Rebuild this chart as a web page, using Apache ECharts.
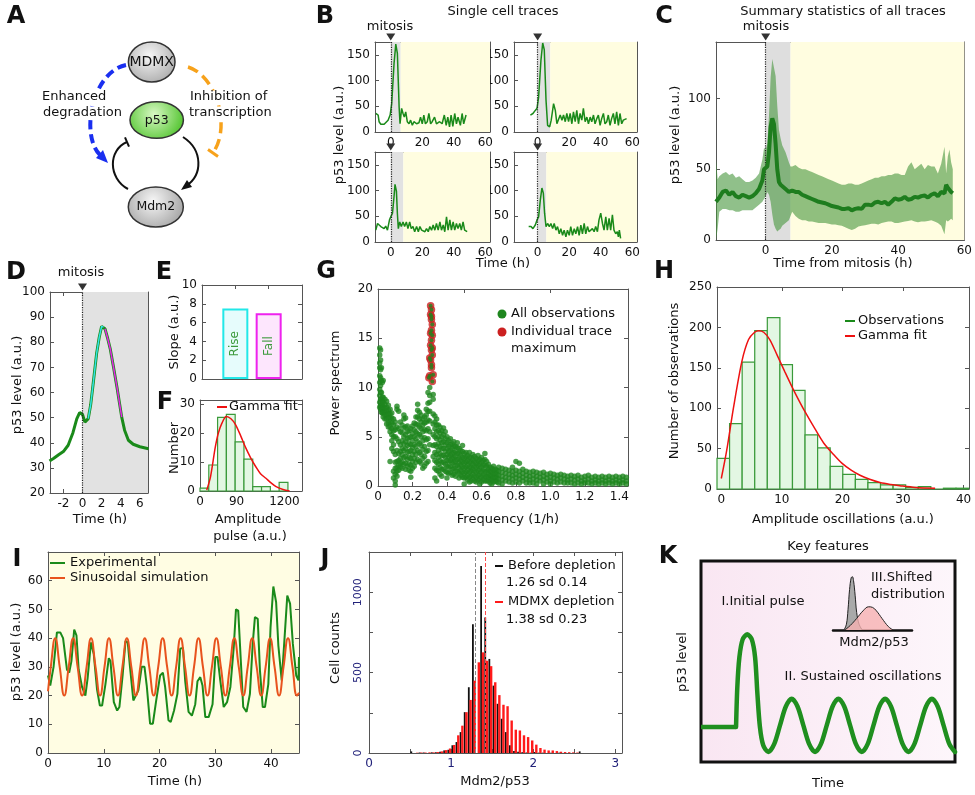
<!DOCTYPE html>
<html><head><meta charset="utf-8">
<script src="https://cdn.jsdelivr.net/npm/echarts@6/dist/echarts.min.js"></script>
<style>html,body{margin:0;padding:0;background:#fff}#c{width:975px;height:795px}</style>
</head><body><div id="c"></div>
<script>
// ================= DATA =================
// B: single cell traces (time h, p53 a.u.)
const b1t=[-9.5,-8,-7.4,-6.3,-4.2,-3.2,-1.7,-0.4,0.6,2.1,3.2,4.2,5.3,5.9,6.9,7.8,8.6,9.5,10.5,11.6,12.6,13.7,14.7,16.4,17.9,18.9,20,21,22,23.2,24.2,25.3,26.3,27.8,29,30,31,32.6,34,35.2,36.2,37.3,38.3,39.4,40.6,41.7,42.7,44.2,45.3,46.3,47.8];
const b1v=[36,33,20,15,15,18,23,33,55,134,171,153,49,16,46,36,29,39,20,16,23,13,20,16,18,29,16,33,16,20,36,16,20,29,16,16,20,16,33,13,29,10,33,11,36,16,29,13,36,16,33];
const b2t=[-4.6,-3,-1.5,-0.4,0.6,2.1,3.2,4.2,5.3,6.3,7.6,8.6,10.1,11.2,12.2,13.3,14.3,15.4,16.4,17.5,18.5,19.6,20.6,21.7,22.7,23.8,24.8,25.9,26.9,28,29,30.1,31.2,32.2,33.3,34.3,35.4,36.4,37.5,38.5,39.6,40.6,41.7,42.7,43.8,44.8,45.9,46.9,48,49,50.1,51.2,52.2,53.3,54.3,55.4,56.4];
const b2v=[33,36,42,46,68,140,173,160,62,13,10,23,55,42,16,13,33,23,33,20,36,20,36,16,39,20,42,16,36,23,46,20,29,16,29,20,33,16,26,33,13,26,36,16,20,33,13,26,36,16,39,13,36,16,23,20,26];
const b3t=[-9.5,-8.4,-7.4,-6.3,-5.3,-4.2,-3.2,-2.1,-0.8,0,1.1,2.1,2.7,3.6,4.2,4.8,5.7,6.7,7.8,8.8,9.9,10.9,12,13,14.1,15.2,16.4,17.5,18.5,19.6,20.6,21.7,22.7,23.8,24.8,25.9,26.9,28,29,30.1,31.2,32.2,33.3,34.3,35.4,36.4,37.5,38.5,39.6,40.6,41.7,42.7,43.8,44.8,45.9,46.9,48.5];
const b3v=[23,36,33,30,33,26,31,23,43,49,56,89,112,99,56,26,39,30,39,30,39,26,39,26,30,20,30,20,30,23,26,20,26,20,30,23,33,23,36,23,39,23,33,20,49,23,43,23,39,23,36,26,36,23,39,23,20];
const b4t=[-5.7,-4.2,-3,-1.5,-0.4,0.6,1.7,2.7,3.6,4.4,5.3,6.3,7.4,8.4,9.5,10.5,11.6,12.6,13.7,14.7,15.8,16.8,17.9,18.9,20,21,22.1,23.2,24.2,25.3,26.3,27.4,28.4,29.5,30.5,31.6,32.6,33.7,34.7,35.8,36.8,37.9,38.9,40,41.1,42.1,43.2,44.2,45.3,46.3,47.4,48.4,49.5,50.5,51.2,51.8,52.6];
const b4v=[30,30,26,33,43,49,82,105,95,56,30,36,30,36,26,36,23,30,16,26,13,23,10,23,13,30,13,26,16,30,13,33,16,36,16,30,20,23,26,20,30,20,43,56,36,23,49,23,46,23,53,23,16,20,10,23,7];
const bGrayEnd=[6.3,8,8,5.5];
const bXTicks=[0,20,40,60], bYTicks=[0,50,100,150];

// C: summary statistics
const cT=[-15,-14.5,-14,-13,-12,-11,-10,-9,-8,-7,-6,-5,-4,-3,-2,-1,-0.5,0,0.5,1,1.5,2,2.5,3,3.5,4,4.5,5,6,7,7.5,8,9,10,11,12,13,14,15,16,17,18,19,20,21,22,23,24,25,26,27,28,29,30,31,32,33,34,35,36,37,38,39,40,41,42,43,44,45,46,47,48,49,50,51,52,53,54,54.5,55,55.5,56,56.5];
const cMean=[27,28,30,34,35,32,34,31,30,32,31,30,31,33,36,42, 50,51,52,62,80,86,82,68,50,41,39,38, 36,34,34,35, 34,34,32,31,30,29,28,27,26.5,26, 25,24,23.5,23,22,22,22.5,21,22,22.5, 22,25,25,24.5,26.5,27,26,27,25,27, 29.5,28.5,29,30.5,28.5,29,30.5,30,31,31.5, 30,32,33,31,34,33, 39,37,36,34,33];
const cLow=[0,8,20,22,22,21,21,20,20,21,21,21,21,23,25,27, 29,31,34,32,27,18,11,8,6,7,8,10, 12,14,17,20, 17,15,14,14,13,13,12.5,12,12,12, 11.5,11,11,10.5,10,9,8,7,8,9.5, 10,10.5,11,11.5,11.5,11,12,12.5,13,13, 12,12,12.5,13,13.5,14,13,12.5,13,13, 13.5,14,13,12,10,4, 14,13,14,15,14];
const cUp=[57,43,45,47,48,46,47,44,45,43,41,41,42,44,47,57, 65,64,68,88,115,128,122,116,95,78,72,67, 62,55,52,52, 53,51,50,50,49,48,47,46,45,44, 43,42,41,40,39,39,40,40,39,39, 40,41,42,43,44,44,45,45,46,46, 47,47,46,46,52,55,50,52,54,50, 53,52,52,47,54,66, 47,59,64,55,50];
const cGrayEnd=7.5;

// D: single pulse
const dT=[-3.45,-3,-2.5,-2,-1.5,-1,-0.6,-0.3,0,0.25,0.6,0.85,1.1,1.47,1.75,2,2.2,2.35,2.6,2.9,3.2,3.6,3.9,4.1,4.4,4.8,5.3,6,6.9];
const dV=[32.7,33.8,35.2,36.5,39,44,49.5,52,51.3,48.2,49.6,55,63,75.4,82,86.3,86,85.4,82,77.4,71,62.2,55,50.2,45,41,39.4,38.4,37.6];
const dRise=[0.6,2.2], dFall=[2.35,4.1];

// E: slopes
const eCat=['Rise','Fall'], eVal=[7.5,7.0];

// F: pulse amplitude histogram + gamma fit
const fBinStart=0, fBinWidth=125;
const fCounts=[1,9,25.5,26.5,17,11,1.5,1.5,0,3];
const fGx=[96,150,216,260,312,375,440,505,580,649,720,793,860,937,1010,1082,1180,1274];
const fGy=[0.3,5,15,20,23.5,25.8,25,23,19,15,11.5,8.4,6,4.4,2.8,1.5,0.5,0];
const fXTicks=[0,520,1200], fXLabels=['0','90','1200'];

// G: power spectrum [frequency, powers...]
const gSpectrum=[
[0.01,[14,13.3,12.5,12,11.2,10.5,9.8,9.2,8.5,8]],[0.015,[13.8,12.8,11.8,11,10.2,9.5,8.8,8.2,7.8]],[0.02,[12,10.7,9.5,8.8,8.3,7.9,7.5]],
[0.025,[10.5,9,8.6,8.2,7.8,7.4]],[0.03,[10.7,9,8.5,8,7.5,7]],[0.04,[8.8,8.3,7.9,7.5,7.2,6.8]],[0.05,[8.6,8,7.6,7.2,6.8,6.3]],
[0.06,[8.2,7.7,7.3,6.9,6.4,6]],[0.07,[7.8,7.3,6.9,6.5,6,5.5,2.5]],[0.08,[7.4,6.9,6.4,5.8,5.2,4.6,3.8]],[0.09,[6.8,6.2,5.6,5,4.2,3.5,1.5,0.8]],
[0.1,[6.5,5.7,5,3.2,2.4,1.8,1.2,0.5,0.1]],[0.11,[8.1,7.8,6,4.8,3.6,2.5,1.9,1.5,1]],[0.12,[7.6,5.8,4.5,3.3,2.6,2.1,1.6]],[0.13,[6.5,5.5,4.2,3.5,2.8,2.3,1.9]],
[0.14,[6.2,5.4,4.6,3.8,3.2,2.4,1.8]],[0.15,[7.2,6.8,5.9,5,4.3,3.6,2.9,2.2]],[0.16,[6.9,6,5.2,4.5,3.8,3,2.3,1.7]],[0.17,[6.1,5.5,4.8,4.1,3.4,2.7,2]],
[0.18,[5.6,4.9,4.3,3.5,2.9,2.2,1.6]],[0.19,[5.8,5,4.2,3.6,2.8,2.1,1.5,0.9]],[0.2,[6.1,5.3,4.6,3.9,3.2,2.5,1.8]],[0.21,[6.4,5.7,5,4.2,3.5,2.8,2]],
[0.22,[7,6.3,5.5,4.8,4,3.2,2.4]],[0.23,[8.3,7.7,7,6.2,5.3,4.5,3.6,2.7]],[0.24,[7.5,6.8,6,5.2,4.3,3.4,2.5]],[0.25,[7.2,6.5,5.8,5,4.1,3.2,2.3]],
[0.26,[6.8,6.2,5.5,4.6,3.7,2.8,1.8]],[0.27,[7,6.4,5.7,4.9,4,3,2]],[0.28,[7.8,7.2,6.5,5.6,4.7,3.5,2.3]],[0.29,[9.5,8.4,7.6,6.7,5.8,4.8,3.6,2.5]],
[0.3,[10,9.2,8.5,7.6,6.6,5.5,4.2]],[0.32,[9.3,8.8,7.3,6.3,5.2,4.1,3]],[0.33,[7.1,6.5,5.8,5,4.2,3.4,2.6,1.8,0.8]],[0.34,[6.8,6.2,5.5,4.8,4,3.2,2.4,1.6,0.5]],
[0.35,[6.2,5.6,5,4.3,3.6,2.9,2.2,1.5]],[0.36,[6,5.4,4.7,4,3.3,2.6,1.9,1.2]],[0.37,[5.6,5,4.4,3.8,3.1,2.4,1.7,1]],[0.38,[5.9,5.2,4.5,3.8,3.1,2.4,1.7]],
[0.39,[5.5,4.8,4.2,3.5,2.9,2.2,1.5]],[0.4,[5,4.4,3.8,3.2,2.6,2,1.4,0.8]],[0.41,[4.6,4,3.5,3,2.5,1.9,1.3]],[0.42,[4.8,4.2,3.6,3.1,2.6,2,1.4]],
[0.43,[4.3,3.8,3.3,2.8,2.3,1.7,1.1]],[0.44,[4.5,4,3.4,2.9,2.4,1.8,1.2]],[0.45,[4,3.5,3,2.5,2,1.5,1]],[0.46,[4.4,3.9,3.3,2.7,2.1,1.5]],
[0.47,[3.8,3.3,2.8,2.3,1.8,1.3,0.8]],[0.48,[3.6,3.1,2.6,2.1,1.6,1.1]],[0.49,[4.1,3.5,2.9,2.4,1.9,1.4,0.9]],[0.5,[3.3,2.8,2.3,1.8,1.3,0.8,0.2]],
[0.51,[3.4,2.9,2.4,1.9,1.4,0.9]],[0.52,[3.1,2.6,2.1,1.6,1.1,0.6]],[0.53,[3.4,2.9,2.4,1.9,1.4,0.9,0.4]],[0.54,[2.9,2.4,1.9,1.5,1,0.5]],
[0.55,[3.2,2.7,2.2,1.7,1.2,0.7]],[0.56,[3,2.5,2,1.5,1,0.5]],[0.57,[2.8,2.3,1.9,1.4,0.9,0.4]],[0.58,[3.1,2.6,2.1,1.6,1.1,0.6]],
[0.59,[2.7,2.2,1.7,1.2,0.7,0.2]],[0.6,[2.9,2.4,1.9,1.4,0.9,0.4]],[0.61,[2.6,2.1,1.6,1.1,0.6]],[0.62,[3.3,2.7,2.1,1.5,1,0.5]],
[0.63,[2.5,2,1.5,1,0.5]],[0.64,[2.2,1.7,1.3,0.9,0.5]],[0.65,[1.9,1.5,1.1,0.7,0.3]],[0.66,[1.8,1.4,1,0.6,0.2]],[0.67,[2,1.6,1.2,0.8,0.4]],
[0.68,[1.7,1.3,0.9,0.5]],[0.69,[1.6,1.2,0.8,0.4]],[0.7,[1.9,1.5,1.1,0.7,0.3]],[0.72,[1.8,1.4,1,0.6,0.2]],[0.74,[1.7,1.3,0.9,0.5]],
[0.76,[1.6,1.2,0.8,0.4]],[0.78,[1.9,1.5,1.1,0.7,0.3]],[0.8,[2.5,1.6,1.2,0.8,0.4]],[0.82,[2.3,1.5,1.1,0.7,0.3]],[0.84,[1.7,1.3,0.9,0.5]],
[0.86,[1.5,1.1,0.7,0.3]],[0.88,[1.4,1,0.6,0.3]],[0.9,[1.5,1.1,0.7,0.3]],[0.92,[1.4,1,0.6,0.2]],[0.94,[1.3,0.9,0.5]],[0.96,[1.4,1,0.6,0.2]],
[0.98,[1.2,0.8,0.4]],[1.0,[1.3,0.9,0.5,0.2]],[1.02,[1.2,0.8,0.4]],[1.04,[1.1,0.7,0.3]],[1.06,[1.2,0.8,0.4]],[1.08,[1.1,0.7,0.3]],
[1.1,[1,0.6,0.3]],[1.12,[1.1,0.7,0.3]],[1.14,[1,0.6,0.2]],[1.16,[1.1,0.7,0.3]],[1.18,[0.9,0.5,0.2]],[1.2,[1,0.6,0.3]],[1.22,[1.1,0.7,0.3]],
[1.24,[0.9,0.5,0.2]],[1.26,[1,0.6,0.3]],[1.28,[0.9,0.5,0.2]],[1.3,[1,0.6,0.3]],[1.32,[0.9,0.5,0.2]],[1.34,[1,0.6,0.3]],[1.36,[0.9,0.5,0.2]],
[1.38,[1,0.6,0.3]],[1.4,[0.9,0.5,0.2]],[1.42,[1,0.6,0.3]],[1.44,[0.9,0.5,0.2]]];
const gMaxF=[0.305,0.31,0.305,0.31,0.315,0.31,0.315,0.31,0.305,0.31,0.315,0.305,0.31,0.3,0.315,0.32,0.295,0.3,0.31,0.305,0.315,0.31];
const gMaxP=[18.3,17.9,17.4,16.9,16.4,15.8,15.3,14.8,14.3,13.8,13.3,12.8,12.3,11.2,10.6,11.3,11,13,17.2,15.5,14,12];

// H: amplitude of oscillations histogram + gamma fit
const hBinStart=-0.71, hBinWidth=2.077;
const hCounts=[38,81,157,196,212,154,122,67,51,28,18,12,8,5,5,2,3,0,1,1];
const hGx=[0,0.9,2,3.4,4.5,5.5,6.2,7,8,9.2,10.5,11.9,13,14.1,15.5,16.9,18.5,19.9,21.5,22.9,24.5,26.2,28,29.5,32,35.3];
const hGy=[13,48,100,158,185,194,196,194,185,166,145,123,107,92,74,57,43,32,23,17,12,8,5.5,4,2,1];

// I: experimental vs sinusoidal
const iT=[0,0.4,1,1.6,2.2,2.7,3.4,3.8,4.2,4.7,5.1,5.5,6.1,6.7,7.1,7.7,8.2,8.8,9.3,9.7,10.3,10.9,11.2,11.8,12.4,12.8,13.4,13.9,14.3,14.7,15.3,15.6,16.2,16.8,17.3,17.7,18.3,18.8,19.4,20.1,20.6,21,21.6,22,22.6,23.2,23.7,24.2,24.6,25.2,25.8,26.4,26.8,27.3,27.7,28.2,28.8,29.5,30,30.4,30.9,31.5,32.1,32.7,33.3,33.7,34.1,34.6,35,35.6,36.2,36.7,37.1,37.6,38,38.5,38.9,39.5,39.9,40.4,40.9,41.3,41.9,42.3,42.9,43.4,43.9,44.5,44.9,45];
const iV=[27,23.5,30,42,42,40,29,28,32,43,41,29,23,20,26,38.5,34.5,22,16.5,16.5,24,33,32,17.7,14.8,16,27.5,39,38.5,30,18.3,17.7,21.8,30,30,23.5,10.2,10.2,18.3,27,28,23,11.4,10.8,14.8,20.6,36.3,36.6,25,14.3,13,17,25,26.4,23.5,12.5,12.5,17,33.4,33.4,25,16,17.7,23,36.8,50,49.6,31,16,14.3,20.6,38,47.3,46.7,28.7,16,16,24,43.8,58,52.5,37.4,25.3,36.8,54.8,52,38,27,25.3,33.4];
const sT=[0,0.5,1.3,2.1,2.91,3.71,4.51,5.31,6.12,6.92,7.72,8.52,9.33,10.13,10.93,11.73,12.54,13.34,14.14,14.94,15.75,16.55,17.35,18.15,18.96,19.76,20.56,21.36,22.17,22.97,23.77,24.57,25.38,26.18,26.98,27.78,28.59,29.39,30.19,30.99,31.8,32.6,33.4,34.2,35.01,35.81,36.61,37.41,38.22,39.02,39.82,40.62,41.43,42.23,43.03,43.83,44.64,45];
const sV=[21.5,30,40,30,20,30,40,30,20,30,40,30,20,30,40,30,20,30,40,30,20,30,40,30,20,30,40,30,20,30,40,30,20,30,40,30,20,30,40,30,20,30,40,30,20,30,40,30,20,30,40,30,20,30,40,30,20,21];

// J: Mdm2/p53 histograms [bin centre, count]
const jBefore=[[0.515,10],[0.615,3],[0.665,3],[0.765,4],[0.815,5],[0.865,8],[0.915,16],[0.965,20],[1.015,48],[1.065,68],[1.115,130],[1.165,254],[1.215,409],[1.265,800],[1.365,1163],[1.415,843],[1.465,585],[1.515,419],[1.565,306],[1.615,213],[1.665,130],[1.715,48],[1.765,12],[1.815,8],[1.865,5],[1.915,3],[1.965,2],[2.015,6],[2.065,2],[2.115,2],[2.215,1],[2.315,2],[2.565,10]];
const jDepl=[[0.587,2],[0.637,3],[0.687,3],[0.737,4],[0.787,4],[0.837,6],[0.887,10],[0.937,18],[0.987,28],[1.037,50],[1.087,110],[1.137,170],[1.187,254],[1.237,330],[1.287,450],[1.337,564],[1.387,626],[1.437,574],[1.487,540],[1.537,440],[1.587,360],[1.637,300],[1.687,291],[1.737,202],[1.787,145],[1.837,140],[1.887,110],[1.937,99],[1.987,78],[2.037,52],[2.087,31],[2.137,21],[2.187,16],[2.237,16],[2.287,12],[2.337,8],[2.387,6],[2.437,5],[2.487,4],[2.537,3]];
const jMeans=[1.29,1.41];

// K: schematic
const kFlatT=[0,13.8], kFlatV=[17.4,17.4];
const kT=[13.8,14.3,15.1,16.4,18.2,20,21.3,22.2,23.2,24.5,26.5,28.8,31.1,33.4,35.7,38,40.3,42.6,44.9,47.2,49.5,51.8,54.1,56.4,58.7,61,63.3,65.6,67.9,70.2,72.5,74.8,77.1,79.4,81.7,84,86.3,88.6,90.9,93.2,95.5,97.8,100];
const kV=[17.4,37.3,52,61,63.5,61,52,34,17.4,8.3,5,8.9,18.25,27.6,31.5,27.6,18.25,8.9,5,8.9,18.25,27.6,31.5,27.6,18.25,8.9,5,8.9,18.25,27.6,31.5,27.6,18.25,8.9,5,8.9,18.25,27.6,31.5,27.6,18.25,8.9,5];
const kGx=[14,17,19,21,23,24.5,26,28,30,33,37], kGy=[0,10,35,70,90,92,85,60,30,10,0];
const kPx=[15,22,30,38,45,50,55,62,70,76], kPy=[0,8,20,33,40,39,33,20,6,0];

// ================= BUILD =================
const FONT='DejaVu Sans';
const GREEN='#1a8a1a', AXC='#555', YEL='#fffde0', GRAYB='#e2e2e2', NAVY='#22227a';
const grids=[], xAxes=[], yAxes=[], series=[], graphic=[];

function merge(a,b){for(const k in b){const v=b[k];if(v&&typeof v==='object'&&!Array.isArray(v)&&a[k]&&typeof a[k]==='object'&&!Array.isArray(a[k]))merge(a[k],v);else a[k]=v;}return a;}
function zip(a,b){return a.map((x,i)=>[x,b[i]]);}
function mkAxis(gi,pos,min,max,ticks,labels,extra){
  const a={type:'value',gridIndex:gi,position:pos,min:min,max:max,
    axisLine:{show:true,onZero:false,lineStyle:{color:AXC,width:1}},
    axisTick:{show:ticks.length>0,inside:true,length:4,customValues:ticks,lineStyle:{color:AXC,width:1}},
    axisLabel:{show:!!labels,customValues:labels||ticks,color:'#111',fontSize:12,fontFamily:FONT,margin:5,formatter:v=>String(v)},
    splitLine:{show:false},axisPointer:{show:false}};
  if(extra){
    const fmt=extra.axisLabel&&extra.axisLabel.formatter;
    merge(a,JSON.parse(JSON.stringify(extra)));
    if(fmt) a.axisLabel.formatter=fmt;
  }
  return a;
}
function panel(box,x,y,gridExtra){
  const gi=grids.length;
  grids.push(merge({left:box[0],top:box[1],width:box[2]-box[0],height:box[3]-box[1]},gridExtra||{}));
  const xi=xAxes.length, yi=yAxes.length;
  xAxes.push(mkAxis(gi,'bottom',x.min,x.max,x.ticks,x.labels,x.extra));
  xAxes.push(mkAxis(gi,'top',x.min,x.max,x.top||x.ticks,null,x.extra));
  yAxes.push(mkAxis(gi,'left',y.min,y.max,y.ticks,y.labels,y.extra));
  yAxes.push(mkAxis(gi,'right',y.min,y.max,y.right||y.ticks,null,y.extra));
  return {gi:gi,xi:xi,yi:yi};
}
function lineS(ax,data,color,w,z,extra){
  return merge({type:'line',xAxisIndex:ax.xi,yAxisIndex:ax.yi,data:data,symbol:'none',showSymbol:false,silent:true,z:z,
    lineStyle:{color:color,width:w},itemStyle:{color:color},clip:true},extra||{});
}
function bands(ax,data,list){
  return lineS(ax,data,'rgba(0,0,0,0)',0,1,{lineStyle:{opacity:0},
    markArea:{silent:true,data:list.map(b=>[{xAxis:b[0],itemStyle:{color:b[2]}},{xAxis:b[1]}])}});
}
function mitosisMark(ax,data,ytop,z){
  return lineS(ax,data,'rgba(0,0,0,0)',0,z||2,{lineStyle:{opacity:0},
    markLine:{silent:true,symbol:['none','none'],label:{show:false},lineStyle:{type:'dotted',color:'#222',width:1.2},data:[{xAxis:0}]},
    markPoint:{silent:true,data:[{coord:[0,ytop],symbol:'triangle',symbolSize:[9,7],symbolRotate:180,symbolOffset:[0,-5],itemStyle:{color:'#333'},label:{show:false}}]}});
}
function histSeries(ax,start,w,counts,fill,stroke,lw,xmax){
  const data=counts.map((c,i)=>[start+i*w,Math.min(start+(i+1)*w,xmax),c]);
  return {type:'custom',xAxisIndex:ax.xi,yAxisIndex:ax.yi,z:2,silent:true,data:data,encode:{x:[0,1],y:2},
    renderItem:function(p,api){const a=api.coord([api.value(0),0]);const b=api.coord([api.value(1),api.value(2)]);
      return {type:'rect',shape:{x:a[0],y:b[1],width:b[0]-a[0],height:a[1]-b[1]},style:{fill:fill,stroke:stroke,lineWidth:lw}};}};
}
function barsPx(ax,pairs,color,wpx,z){
  return {type:'custom',xAxisIndex:ax.xi,yAxisIndex:ax.yi,z:z,silent:true,data:pairs,encode:{x:0,y:1},
    renderItem:function(p,api){const a=api.coord([api.value(0),0]);const b=api.coord([api.value(0),api.value(1)]);
      return {type:'rect',shape:{x:a[0]-wpx/2,y:b[1],width:wpx,height:a[1]-b[1]},style:{fill:color}};}};
}
function txt(s,x,y,o){o=o||{};const al=o.align||'center';
  graphic.push({type:'text',x:x,y:y,rotation:o.rot||0,z:100,
    style:{text:s,fill:o.color||'#111',font:(o.bold?'bold ':'')+(o.size||13)+'px "'+FONT+'"',
      textAlign:al,align:al,textVerticalAlign:'middle',verticalAlign:'middle',
      backgroundColor:o.bg||null}});}
function legLine(x1,x2,y,color,w){graphic.push({type:'line',z:100,shape:{x1:x1,y1:y,x2:x2,y2:y},style:{stroke:color,lineWidth:w||2}});}
function legDot(x,y,r,color){graphic.push({type:'circle',z:100,shape:{cx:x,cy:y,r:r},style:{fill:color}});}
const R90=Math.PI/2;

// ---------- Panel A (diagram) ----------
const grayGrad={type:'radial',x:0.45,y:0.35,r:0.75,colorStops:[{offset:0,color:'#f6f6f6'},{offset:1,color:'#a8a8a8'}]};
const greenGrad={type:'radial',x:0.45,y:0.35,r:0.75,colorStops:[{offset:0,color:'#d8f8c4'},{offset:1,color:'#5cc83a'}]};
graphic.push({type:'bezierCurve',z:50,shape:{x1:126,y1:65,cpx1:92,cpy1:72,cpx2:80,cpy2:135,x2:100,y2:155},style:{stroke:'#1a2ff0',lineWidth:4,lineDash:[9,5],fill:null}});
graphic.push({type:'polygon',z:50,shape:{points:[[108,163],[96,158],[103,150]]},style:{fill:'#1a2ff0'}});
graphic.push({type:'bezierCurve',z:50,shape:{x1:188,y1:67,cpx1:215,cpy1:75,cpx2:232,cpy2:125,x2:213,y2:153},style:{stroke:'#f7a21b',lineWidth:3.5,lineDash:[11,6],fill:null}});
graphic.push({type:'line',z:50,shape:{x1:208,y1:149.6,x2:218,y2:156.4},style:{stroke:'#f7a21b',lineWidth:3}});
graphic.push({type:'bezierCurve',z:50,shape:{x1:128,y1:189,cpx1:108,cpy1:178,cpx2:108,cpy2:150,x2:127,y2:142},style:{stroke:'#111',lineWidth:2,fill:null}});
graphic.push({type:'line',z:50,shape:{x1:125,y1:137.4,x2:129,y2:146.6},style:{stroke:'#111',lineWidth:2}});
graphic.push({type:'bezierCurve',z:50,shape:{x1:183,y1:137,cpx1:203,cpy1:150,cpx2:203,cpy2:175,x2:186,y2:186},style:{stroke:'#111',lineWidth:2,fill:null}});
graphic.push({type:'polygon',z:50,shape:{points:[[181,190],[192,187],[187,180]]},style:{fill:'#111'}});
graphic.push({type:'ellipse',z:60,shape:{cx:151.7,cy:62,rx:23.3,ry:20},style:{fill:grayGrad,stroke:'#333',lineWidth:1.5}});
graphic.push({type:'ellipse',z:60,shape:{cx:156.7,cy:120,rx:26.7,ry:18.3},style:{fill:greenGrad,stroke:'#333',lineWidth:1.5}});
graphic.push({type:'ellipse',z:60,shape:{cx:155.8,cy:207,rx:27.5,ry:20},style:{fill:grayGrad,stroke:'#333',lineWidth:1.5}});
txt('MDMX',151.7,62,{size:14});
txt('p53',156.7,121,{size:12.5});
txt('Mdm2',155.8,207,{size:12.5});
txt('Enhanced',42,97,{align:'left',bg:'#fff'});
txt('degradation',43,113,{align:'left',bg:'#fff'});
txt('Inhibition of',190,97,{align:'left',bg:'#fff'});
txt('transcription',189,113,{align:'left',bg:'#fff'});

// ---------- Panel B ----------
const bTr=[[b1t,b1v],[b2t,b2v],[b3t,b3v],[b4t,b4v]];
const bBox=[[375,42,490,132],[514,42,637,132],[375,152,490,242],[514,152,637,242]];
const bXmin=[-10,-15,-10,-15];
bTr.forEach((tr,k)=>{
  const ax=panel(bBox[k],{min:bXmin[k],max:63,ticks:bXTicks,labels:bXTicks},{min:0,max:175,ticks:bYTicks,labels:bYTicks});
  const data=zip(tr[0],tr[1]);
  series.push(bands(ax,data,[[0,bGrayEnd[k],GRAYB],[bGrayEnd[k],63,YEL]]));
  series.push(mitosisMark(ax,data,175,2));
  series.push(lineS(ax,data,GREEN,1.5,3));
});

// ---------- Panel C ----------
const axC=panel([716,42,968,240],{min:-15,max:60,ticks:[0,20,40,60],labels:[0,20,40,60]},{min:0,max:140,ticks:[0,50,100],labels:[0,50,100]});
const cMeanData=zip(cT,cMean);
const BAND='rgba(70,150,60,0.6)';
series.push(bands(axC,cMeanData,[[0,cGrayEnd,'#dedede'],[cGrayEnd,60,YEL]]));
series.push({type:'custom',xAxisIndex:axC.xi,yAxisIndex:axC.yi,z:3,silent:true,data:[[0,0]],encode:{x:0,y:1},
  renderItem:function(p,api){
    const pts=[];
    for(let i=0;i<cT.length;i++) pts.push(api.coord([cT[i],cUp[i]]));
    for(let i=cT.length-1;i>=0;i--) pts.push(api.coord([cT[i],cLow[i]]));
    return {type:'polygon',shape:{points:pts},style:{fill:BAND}};
  }});
series.push(mitosisMark(axC,cMeanData,140,4));
series.push(lineS(axC,cMeanData,'#1e7d1e',4,5));

// ---------- Panel D ----------
const dTicksY=[20,30,40,50,60,70,80,90,100];
const axD=panel([50,292,148,493],{min:-3.4,max:6.85,ticks:[-2,0,2,4,6],labels:[-2,0,2,4,6]},{min:20,max:100,ticks:dTicksY,labels:dTicksY});
const dData=zip(dT,dV);
series.push(bands(axD,dData,[[0,6.85,GRAYB]]));
series.push(mitosisMark(axD,dData,100,2));
series.push(lineS(axD,dData,GREEN,3,3));
series.push(lineS(axD,dData.filter(p=>p[0]>=dRise[0]&&p[0]<=dRise[1]),'#30e4e4',1.5,4));
series.push(lineS(axD,dData.filter(p=>p[0]>=dFall[0]&&p[0]<=dFall[1]),'#e624e6',1.5,4));

// ---------- Panel E ----------
const eY=[0,2,4,6,8,10];
const axE=panel([202,285,302,379],{min:0,max:3,ticks:[1,2],labels:null},{min:0,max:10,ticks:eY,labels:eY});
const eFill=['#e6fcfc','#fde6fd'], eStroke=['#22e8e8','#ee22ee'];
series.push({type:'bar',xAxisIndex:axE.xi,yAxisIndex:axE.yi,barWidth:26,silent:true,z:3,
  data:eCat.map((c,i)=>({name:c,value:[i+1,eVal[i]],itemStyle:{color:eFill[i],borderColor:eStroke[i],borderWidth:2}})),
  label:{show:true,position:'inside',rotate:90,formatter:'{b}',color:'#3c9a3c',fontSize:12,fontFamily:FONT}});

// ---------- Panel F ----------
const axF=panel([200,400,302,491],{min:0,max:1450,ticks:fXTicks,labels:fXTicks,extra:{axisLabel:{formatter:v=>fXLabels[fXTicks.indexOf(v)]}}},{min:0,max:31.5,ticks:[0,10,20,30],labels:[0,10,20,30]});
series.push(histSeries(axF,fBinStart,fBinWidth,fCounts,'#e3f7e3','#3a9a3a',1.2,1450));
series.push(lineS(axF,zip(fGx,fGy),'#ee1111',1.5,4,{smooth:0.3}));

// ---------- Panel G ----------
const gX=[0,0.2,0.4,0.6,0.8,1.0,1.2,1.4];
const axG=panel([378,289,628,486],{min:0,max:1.45,ticks:gX,labels:gX,top:[0.5,1.0],extra:{axisLabel:{formatter:v=>v===0?'0':v.toFixed(1)}}},{min:0,max:20,ticks:[0,5,10,15,20],labels:[0,5,10,15,20]});
const gPts=[]; gSpectrum.forEach(c=>c[1].forEach(p=>gPts.push([c[0],p])));
const GDOT='#1e861e';
series.push({type:'scatter',xAxisIndex:axG.xi,yAxisIndex:axG.yi,data:gPts,symbolSize:5.5,itemStyle:{color:GDOT},silent:true,z:3});
series.push({type:'scatter',xAxisIndex:axG.xi,yAxisIndex:axG.yi,data:zip(gMaxF,gMaxP),symbolSize:7.5,itemStyle:{color:'#cc2020'},silent:true,z:4});
series.push({type:'scatter',xAxisIndex:axG.xi,yAxisIndex:axG.yi,data:zip(gMaxF,gMaxP),symbolSize:4,itemStyle:{color:GDOT},silent:true,z:5});

// ---------- Panel H ----------
const hX=[0,10,20,30,40], hY=[0,50,100,150,200,250];
const axH=panel([717,287,969,489],{min:-0.71,max:40.9,ticks:hX,labels:hX,top:[10,20,30]},{min:0,max:250,ticks:hY,labels:hY,right:[50,100,150,200]});
series.push(histSeries(axH,hBinStart,hBinWidth,hCounts,'#e3f7e3','#3a9a3a',1.2,40.9));
series.push(lineS(axH,zip(hGx,hGy),'#ee1111',1.5,4,{smooth:0.3}));

// ---------- Panel I ----------
const iX=[0,10,20,30,40], iY=[0,10,20,30,40,50,60];
const axI=panel([48,552,299,753],{min:0,max:45,ticks:iX,labels:iX},{min:0,max:70,ticks:iY,labels:iY},{show:true,backgroundColor:'#fffde3',borderWidth:0});
series.push(lineS(axI,zip(iT,iV),GREEN,2,3));
series.push(lineS(axI,zip(sT,sV),'#e8531d',2,4,{smooth:0.5}));

// ---------- Panel J ----------
const axJ=panel([369,552,622,753],{min:0,max:3.08,ticks:[0.5,1,1.5,2,2.5,3],labels:[0,1,2,3],extra:{axisLabel:{color:NAVY}}},
  {min:0,max:1250,ticks:[0,250,500,750,1000],labels:[0,500,1000],extra:{axisLabel:{color:NAVY,rotate:90,fontSize:11}}});
series.push(barsPx(axJ,jBefore,'#111',1.8,3));
series.push(barsPx(axJ,jDepl,'#ff1a1a',2.4,3));
series.push(lineS(axJ,[[0,0],[3,0]],'rgba(0,0,0,0)',0,5,{lineStyle:{opacity:0},
  markLine:{silent:true,symbol:['none','none'],label:{show:false},data:[
    {xAxis:jMeans[0],lineStyle:{type:'dashed',color:'#888',width:1}},
    {xAxis:jMeans[1],lineStyle:{type:'dashed',color:'#ff4a4a',width:1}}]}}));

// ---------- Panel K ----------
const gK=grids.length;
grids.push({left:701,top:561,width:254,height:201,show:true,borderColor:'#111',borderWidth:3,
  backgroundColor:{type:'linear',x:0,y:0,x2:1,y2:0,colorStops:[{offset:0,color:'#f9e6f2'},{offset:1,color:'#fdf6fb'}]}});
const kxi=xAxes.length, kyi=yAxes.length;
xAxes.push({type:'value',gridIndex:gK,min:0,max:100,show:false});
yAxes.push({type:'value',gridIndex:gK,min:0,max:100,show:false});
const axK={xi:kxi,yi:kyi};
series.push(lineS(axK,zip(kFlatT,kFlatV),'#1f8f1f',4.5,3));
series.push(lineS(axK,zip(kT,kV),'#1f8f1f',4.5,3,{smooth:0.3,lineStyle:{cap:'round'}}));
const gKi=grids.length;
grids.push({left:833,top:572,width:79,height:58});
const kixi=xAxes.length, kiyi=yAxes.length;
xAxes.push({type:'value',gridIndex:gKi,min:0,max:100,axisLine:{show:true,onZero:false,lineStyle:{color:'#111',width:2.5}},axisTick:{show:false},axisLabel:{show:false},splitLine:{show:false}});
yAxes.push({type:'value',gridIndex:gKi,min:0,max:100,show:false});
const axKi={xi:kixi,yi:kiyi};
series.push(lineS(axKi,zip(kGx,kGy),'#222',1,6,{smooth:0.4,areaStyle:{color:'#a9a9a9',opacity:1}}));
series.push(lineS(axKi,zip(kPx,kPy),'#222',1,7,{smooth:0.4,areaStyle:{color:'#f6b2b2',opacity:0.8}}));

// ---------- Texts ----------
const L={bold:true,size:24};
txt('A',16,17,L); txt('B',325,17,L); txt('C',664,17,L);
txt('D',16,273,L); txt('E',164,273,L); txt('F',165,403,L);
txt('G',326,272,L); txt('H',664,272,L);
txt('I',17,560,L); txt('J',325,560,L); txt('K',668,557,L);

txt('Single cell traces',503,12);
txt('mitosis',390,27);
txt('p53 level (a.u.)',340,135,{rot:R90});
txt('Time (h)',503,264);

txt('Summary statistics of all traces',843,12);
txt('mitosis',766,27);
txt('p53 level (a.u.)',676,135,{rot:R90});
txt('Time from mitosis (h)',843,264);

txt('mitosis',81,273);
txt('p53 level (a.u.)',18,385,{rot:R90});
txt('Time (h)',100,520);

txt('Slope (a.u.)',175,332,{rot:R90});
txt('Number',175,448,{rot:R90});
txt('Amplitude',248,520);
txt('pulse (a.u.)',250,537);
legLine(217,227,407,'#ee1111',2);
txt('Gamma fit',229,407,{align:'left'});

txt('Power spectrum',336,383,{rot:R90});
txt('Frequency (1/h)',508,520);
legDot(502,314,4.5,GDOT); txt('All observations',511,314,{align:'left'});
legDot(502,332,4.5,'#cc2020'); txt('Individual trace',511,332,{align:'left'});
txt('maximum',511,349,{align:'left'});

txt('Number of observations',675,381,{rot:R90});
txt('Amplitude oscillations (a.u.)',843,520);
legLine(845,855,321,'#1a8a1a',2); txt('Observations',858,321,{align:'left'});
legLine(845,855,336,'#ee1111',2); txt('Gamma fit',858,336,{align:'left'});

txt('p53 level (a.u.)',17,652,{rot:R90});
txt('Time (h)',175,782);
legLine(50,65,563,GREEN,2); txt('Experimental',70,563,{align:'left'});
legLine(50,65,578,'#e8531d',2); txt('Sinusoidal simulation',70,578,{align:'left'});

txt('Cell counts',336,648,{rot:R90});
txt('Mdm2/p53',495,782);
legLine(495,503,566,'#111',2); txt('Before depletion',508,566,{align:'left'});
txt('1.26 sd 0.14',506,583,{align:'left'});
legLine(495,503,602,'#ff1a1a',2); txt('MDMX depletion',508,602,{align:'left'});
txt('1.38 sd 0.23',506,620,{align:'left'});

txt('Key features',828,547);
txt('I.Initial pulse',763,602);
txt('III.Shifted',871,578,{align:'left'});
txt('distribution',871,595,{align:'left'});
txt('Mdm2/p53',874,643);
txt('II. Sustained oscillations',863,677);
txt('p53 level',683,662,{rot:R90});
txt('Time',828,784);

const chart=echarts.init(document.getElementById('c'),null,{renderer:'canvas'});
chart.setOption({animation:false,backgroundColor:'#fff',grid:grids,xAxis:xAxes,yAxis:yAxes,series:series,graphic:{elements:graphic}});
</script></body></html>
